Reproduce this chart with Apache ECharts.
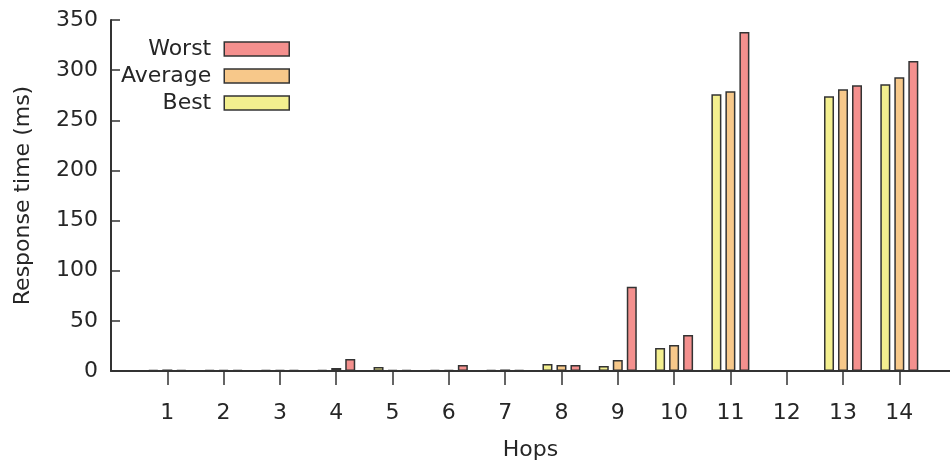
<!DOCTYPE html>
<html>
<head>
<meta charset="utf-8">
<script src="https://cdn.jsdelivr.net/npm/echarts@6/dist/echarts.min.js"></script>
<style>
  html, body { margin: 0; padding: 0; background: #fff; }
  #chart { width: 950px; height: 468px; }
</style>
</head>
<body>
<div id="chart"></div>
<script>
// Response time per hop (ms): best / average / worst of the probes
const hops = [1, 2, 3, 4, 5, 6, 7, 8, 9, 10, 11, 12, 13, 14];
const best = [1, 1, 1, 1, 4, 1, 1, 7, 5, 23, 276, null, 274, 286];
const average = [1.5, 1, 1, 3, 1, 1, 1.5, 6, 11, 26, 279, null, 281, 293];
const worst = [1, 1, 1, 12, 1, 6, 1, 6, 84, 36, 338, null, 285, 309];
const yTicks = [0, 50, 100, 150, 200, 250, 300, 350];

const FONT = 'DejaVu Sans';
const FONT_SIZE = 22;
const TEXT = '#262626';
const AXIS = '#333';

function pairs(values) {
  return hops.map((h, i) => [h, values[i]]);
}

function barSeries(name, values, fill) {
  return {
    name: name,
    type: 'bar',
    data: pairs(values),
    barWidth: 10,
    barGap: '40%',
    itemStyle: { color: fill, borderColor: '#333', borderWidth: 1.5 },
    emphasis: { disabled: true }
  };
}

const chart = echarts.init(document.getElementById('chart'), null, { renderer: 'canvas' });
chart.setOption({
  animation: false,
  backgroundColor: '#fff',
  textStyle: { fontFamily: FONT, color: TEXT },
  grid: { left: 111, right: 0, top: 20, bottom: 97, containLabel: false },
  legend: {
    data: ['Worst', 'Average', 'Best'],
    orient: 'vertical',
    align: 'right',
    right: 660,
    top: 38,
    padding: 0,
    itemWidth: 65,
    itemHeight: 14,
    itemGap: 5,
    icon: 'rect',
    selectedMode: false,
    itemStyle: { borderColor: '#333', borderWidth: 1.5 },
    textStyle: { fontFamily: FONT, fontSize: FONT_SIZE, color: TEXT, lineHeight: 22, padding: [0, 8, 0, 0] }
  },
  xAxis: {
    type: 'value',
    min: 0,
    max: 14.9,
    interval: 1,
    name: 'Hops',
    nameLocation: 'middle',
    nameGap: 68,
    nameTextStyle: { fontFamily: FONT, fontSize: FONT_SIZE, color: TEXT },
    axisLine: { lineStyle: { color: AXIS, width: 2 } },
    axisTick: { show: true, inside: false, length: 14, customValues: hops, lineStyle: { color: AXIS, width: 1.5 } },
    axisLabel: { customValues: hops, margin: 31, fontFamily: FONT, fontSize: FONT_SIZE, color: TEXT },
    splitLine: { show: false }
  },
  yAxis: {
    type: 'value',
    min: 0,
    max: 350,
    interval: 50,
    name: 'Response time (ms)',
    nameLocation: 'middle',
    nameGap: 77,
    nameTextStyle: { fontFamily: FONT, fontSize: FONT_SIZE, color: TEXT },
    axisLine: { show: true, lineStyle: { color: AXIS, width: 2 } },
    axisTick: { show: true, inside: true, length: 9, customValues: yTicks, lineStyle: { color: AXIS, width: 1.5 } },
    axisLabel: { customValues: yTicks, margin: 13, fontFamily: FONT, fontSize: FONT_SIZE, color: TEXT },
    splitLine: { show: false }
  },
  series: [
    barSeries('Best', best, '#f3ef8f'),
    barSeries('Average', average, '#f7c88a'),
    barSeries('Worst', worst, '#f4908e')
  ]
});
</script>
</body>
</html>
